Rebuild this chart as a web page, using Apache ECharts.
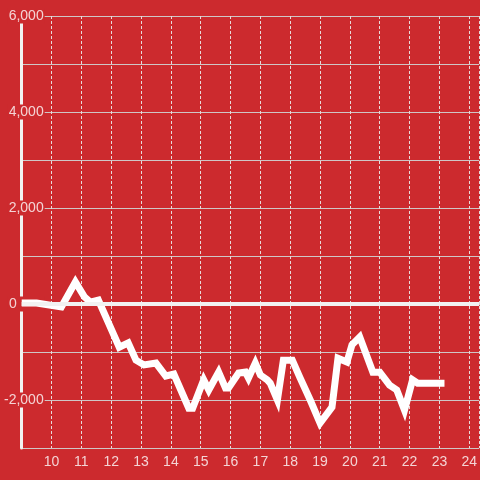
<!DOCTYPE html>
<html>
<head>
<meta charset="utf-8">
<script src="https://cdn.jsdelivr.net/npm/echarts@6/dist/echarts.min.js"></script>
<style>html,body{margin:0;padding:0;background:#cc2a2e;}#c{width:480px;height:480px;}</style>
</head>
<body>
<div id="c"></div>
<script>
// hours of day (x) and values (y)
const hours = [9.0, 9.5, 10.33, 10.8, 11.1, 11.3, 11.57, 12.27, 12.57, 12.83, 13.1, 13.5, 13.83, 14.1, 14.6, 14.73, 15.1, 15.27, 15.6, 15.83, 15.93, 16.27, 16.5, 16.6, 16.83, 17.0, 17.23, 17.33, 17.57, 17.77, 18.07, 18.33, 18.67, 19.0, 19.4, 19.6, 19.9, 20.07, 20.33, 20.77, 21.0, 21.33, 21.57, 21.83, 22.1, 22.27, 23.17];
const values = [20, 20, -60, 460, 150, 40, 80, -900, -810, -1170, -1270, -1230, -1500, -1460, -2170, -2170, -1580, -1790, -1420, -1750, -1750, -1440, -1420, -1540, -1230, -1480, -1580, -1650, -2000, -1170, -1170, -1540, -2000, -2480, -2150, -1130, -1210, -850, -690, -1420, -1420, -1690, -1790, -2210, -1580, -1650, -1650];
const xTicks = [10, 11, 12, 13, 14, 15, 16, 17, 18, 19, 20, 21, 22, 23, 24];
const yLabels = [-2000, 0, 2000, 4000, 6000];

const bg = '#cc2a2e';
const labelColor = '#f4d4d5';
const chart = echarts.init(document.getElementById('c'));
chart.setOption({
  backgroundColor: bg,
  animation: false,
  grid: {left: 20, right: 0, top: 16, bottom: 32, containLabel: false},
  xAxis: {
    type: 'value', min: 9, max: 24.3333, interval: 1,
    axisLine: {show: true, lineStyle: {color: '#d8d0d0', width: 2}},
    axisTick: {show: false},
    axisLabel: {
      color: labelColor, fontFamily: 'Liberation Sans', fontSize: 14, margin: 7,
      showMinLabel: false, showMaxLabel: false,
      formatter: v => xTicks.indexOf(v) >= 0 ? String(v) : ''
    },
    splitLine: {show: true, lineStyle: {color: '#e8dada', width: 1, type: [3, 2]}}
  },
  yAxis: {
    type: 'value', min: -3000, max: 6000, interval: 1000,
    axisLine: {show: true, onZero: false, lineStyle: {color: '#f2f2f2', width: 3}},
    axisTick: {show: false},
    axisLabel: {
      color: labelColor, fontFamily: 'Liberation Sans', fontSize: 14,
      inside: false, margin: -23, align: 'right',
      backgroundColor: bg, padding: [1, 1, 0, 1],
      formatter: v => {
        if (yLabels.indexOf(v) < 0) return '';
        if (v === 0) return '{z|0}';
        return v.toLocaleString('en-US');
      },
      rich: {z: {color: labelColor, fontFamily: 'Liberation Sans', fontSize: 14, padding: [0, 27, 0, 0]}}
    },
    splitLine: {show: true, lineStyle: {color: '#cfc6c6', width: 1}}
  },
  series: [{
    type: 'line',
    data: hours.map((h, i) => [h, values[i]]),
    showSymbol: false,
    symbol: 'none',
    lineStyle: {color: '#ffffff', width: 7, join: 'miter'},
    markLine: {
      silent: true, symbol: 'none', label: {show: false},
      lineStyle: {color: '#f2f2f2', width: 4, type: 'solid'},
      data: [{yAxis: 0}]
    },
    z: 3
  }]
});
</script>
</body>
</html>
